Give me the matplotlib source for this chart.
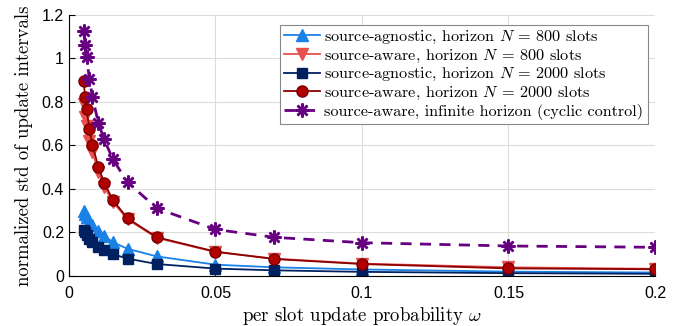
import matplotlib.pyplot as plt

plt.rcParams["mathtext.fontset"] = "cm"

omega = [0.005, 0.0055, 0.006, 0.007, 0.008, 0.01, 0.012, 0.015, 0.02,
         0.03, 0.05, 0.07, 0.1, 0.15, 0.2]

agnostic_800 = [0.30, 0.285, 0.27, 0.25, 0.235, 0.205, 0.185, 0.155, 0.125,
                0.09, 0.052, 0.04, 0.03, 0.02, 0.016]
aware_800 = [0.79, 0.73, 0.69, 0.62, 0.57, 0.48, 0.41, 0.34, 0.26,
             0.175, 0.11, 0.08, 0.057, 0.04, 0.033]
agnostic_2000 = [0.21, 0.20, 0.19, 0.17, 0.155, 0.135, 0.12, 0.10, 0.08,
                 0.055, 0.034, 0.026, 0.019, 0.013, 0.01]
aware_2000 = [0.897, 0.824, 0.766, 0.674, 0.602, 0.503, 0.429, 0.349, 0.265,
              0.178, 0.112, 0.078, 0.055, 0.035, 0.031]
aware_inf = [1.128, 1.062, 1.005, 0.904, 0.824, 0.705, 0.628, 0.536, 0.431,
             0.311, 0.214, 0.178, 0.153, 0.138, 0.132]

fig, ax = plt.subplots(figsize=(6.81, 3.26), dpi=100)
fig.subplots_adjust(left=0.1013, right=0.9618, top=0.954, bottom=0.1534)

ax.plot(omega, agnostic_800, color="#1a82e6", marker="^", ms=8, lw=1.3,
        label=r"source-agnostic, horizon $N$ = 800 slots")
ax.plot(omega, aware_800, color="#e8504f", marker="v", ms=8, lw=1.3,
        label=r"source-aware, horizon $N$ = 800 slots")
ax.plot(omega, agnostic_2000, color="#00205f", marker="s", ms=6.5, lw=1.3,
        label=r"source-agnostic, horizon $N$ = 2000 slots")
ax.plot(omega, aware_2000, color="#8b0000", marker="o", ms=8, lw=1.3,
        markerfacecolor="#b00000", markeredgecolor="#7a0000",
        label=r"source-aware, horizon $N$ = 2000 slots")
ax.plot(omega, aware_inf, color="#660080", marker=(8, 2, 0), ms=10, mew=1.8,
        lw=2, ls=(0, (4, 3)),
        label="source-aware, infinite horizon (cyclic control)")

ax.set_xlim(0, 0.2)
ax.set_ylim(0, 1.2)
ax.set_xticks([0, 0.05, 0.1, 0.15, 0.2])
ax.set_xticklabels(["0", "0.05", "0.1", "0.15", "0.2"])
ax.set_yticks([0, 0.2, 0.4, 0.6, 0.8, 1.0, 1.2])
ax.set_yticklabels(["0", "0.2", "0.4", "0.6", "0.8", "1", "1.2"])
ax.tick_params(direction="in", labelsize=11.5, length=4)
ax.tick_params(axis="x", pad=7)
for lbl in ax.get_xticklabels() + ax.get_yticklabels():
    lbl.set_family("Liberation Sans")

ax.grid(True, color="#dcdcdc", lw=0.8)
ax.set_axisbelow(True)
ax.spines["top"].set_visible(False)
ax.spines["right"].set_visible(False)

ax.set_xlabel(r"per slot update probability $\omega$", family="cmr10",
              fontsize=13.5, labelpad=3)
ax.set_ylabel("normalized std of update intervals", family="cmr10",
              fontsize=13.5, labelpad=6)

leg = ax.legend(loc="upper right", bbox_to_anchor=(0.993, 0.975),
                prop={"family": "cmr10", "size": 11.7}, fancybox=False,
                framealpha=1, edgecolor="#888888", handlelength=2.2,
                handletextpad=0.3, borderpad=0.25, labelspacing=0.1,
                borderaxespad=0.2)
leg.get_frame().set_linewidth(0.8)

fig.savefig("out.png", dpi=100)
